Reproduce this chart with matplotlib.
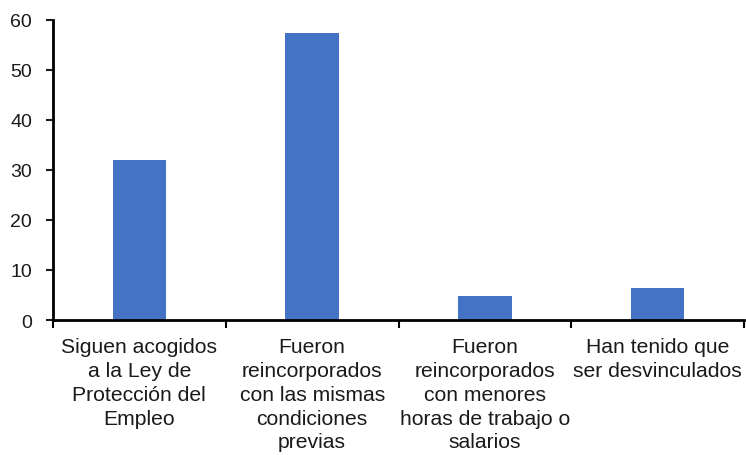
import matplotlib
matplotlib.use("Agg")
import matplotlib.pyplot as plt
import numpy as np

plt.rcParams['font.family'] = ['Liberation Sans', 'DejaVu Sans']

categories = [
    "Siguen acogidos\na la Ley de\nProtección del\nEmpleo",
    "Fueron\nreincorporados\ncon las mismas\ncondiciones\nprevias",
    "Fueron\nreincorporados\ncon menores\nhoras de trabajo o\nsalarios",
    "Han tenido que\nser desvinculados",
]
values = [31.9, 57.3, 4.7, 6.3]
y_ticks = [0, 10, 20, 30, 40, 50, 60]

fig = plt.figure(figsize=(7.46, 4.56), dpi=100)
ax = fig.add_axes([53 / 746, 1 - 321 / 456, 691 / 746, 300.5 / 456])

x = np.arange(len(categories))
ax.bar(x, values, width=0.31, color="#4472C4", zorder=2)

ax.set_xlim(-0.5, len(categories) - 0.5)
ax.set_ylim(0, 60)
ax.set_yticks(y_ticks)
ax.tick_params(axis='y', labelsize=14, length=5, width=1.5, pad=10, colors='#1a1a1a')

# category labels centred under bars, tick marks on the boundaries
ax.set_xticks(np.arange(-0.5, len(categories)), minor=False)
ax.set_xticklabels([])
ax.tick_params(axis='x', length=6, width=1.5)
ax.set_xticks(x, minor=True)
ax.set_xticklabels(categories, minor=True, fontsize=15.2, linespacing=1.33,
                   color='#1a1a1a')
ax.tick_params(axis='x', which='minor', length=0, pad=12)

for side in ('top', 'right'):
    ax.spines[side].set_visible(False)
for side in ('left', 'bottom'):
    ax.spines[side].set_linewidth(2)

fig.savefig("out.png", dpi=100)
